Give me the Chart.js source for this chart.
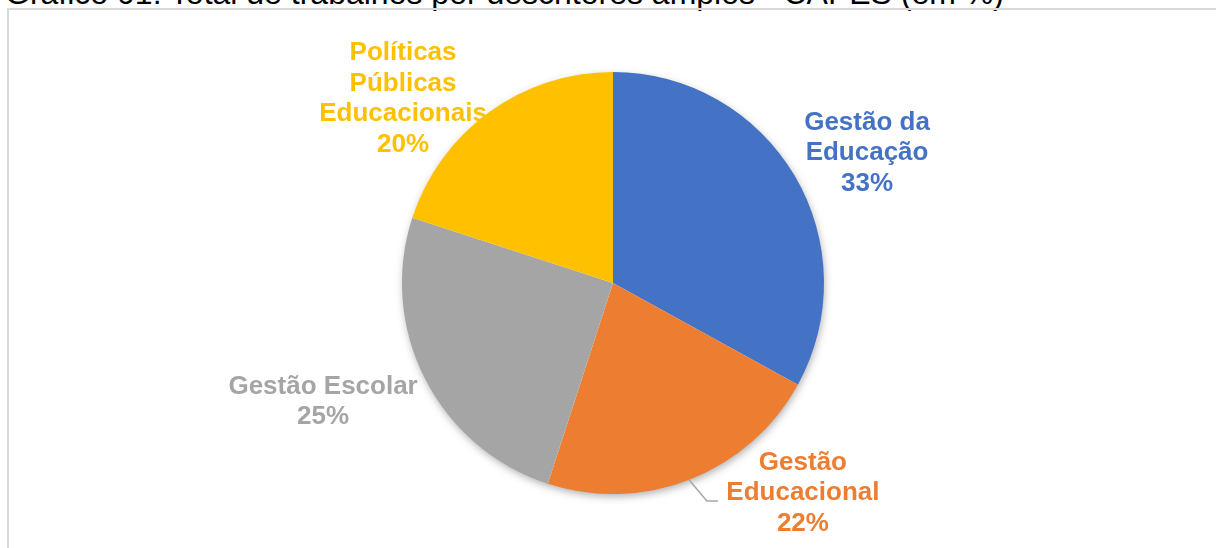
<!DOCTYPE html>
<html lang="pt-BR">
<head>
<meta charset="utf-8">
<title>Gráfico 01</title>
<script src="https://cdn.jsdelivr.net/npm/chart.js@4.4.1/dist/chart.umd.min.js"></script>
<style>
  html, body { margin: 0; padding: 0; background: #fff; overflow: hidden; }
  body { width: 1216px; height: 548px; position: relative; font-family: "Liberation Sans", Arial, sans-serif; }
  #titulo {
    position: absolute; left: 5px; top: -23px;
    font-size: 32px; line-height: 32px; color: #000; white-space: nowrap;
  }
  #moldura {
    position: absolute; left: 7px; top: 8px; width: 1230px; height: 560px;
    border: 2px solid #d9d9d9; box-sizing: border-box;
  }
  #grafico { position: absolute; left: 0; top: 0; }
</style>
</head>
<body>
<div id="titulo">Gráfico 01: Total de trabalhos por descritores amplos - CAPES (em %)</div>
<div id="moldura"></div>
<canvas id="grafico" width="1216" height="548"></canvas>
<script>
// Descritores amplos e percentual de trabalhos
const categorias = ['Gestão da Educação', 'Gestão Educacional', 'Gestão Escolar', 'Políticas Públicas Educacionais'];
const percentuais = [33, 22, 25, 20];
const cores = ['#4472C4', '#ED7D31', '#A5A5A5', '#FFC000'];
// quebra de linha dos rótulos, como no gráfico original
const linhasRotulo = [['Gestão da', 'Educação'], ['Gestão', 'Educacional'], ['Gestão Escolar'], ['Políticas', 'Públicas', 'Educacionais']];

// sombra suave por baixo da pizza inteira (um disco desenhado antes das fatias)
const sombraPizza = {
  id: 'sombraPizza',
  beforeDatasetsDraw(chart) {
    const arc = chart.getDatasetMeta(0).data[0];
    if (!arc) return;
    const { x, y, outerRadius } = arc.getProps(['x', 'y', 'outerRadius'], true);
    const ctx = chart.ctx;
    ctx.save();
    ctx.shadowColor = 'rgba(0,0,0,0.35)';
    ctx.shadowBlur = 9;
    ctx.shadowOffsetX = 1;
    ctx.shadowOffsetY = 3;
    ctx.fillStyle = '#ffffff';
    ctx.beginPath();
    ctx.arc(x, y, outerRadius - 1, 0, Math.PI * 2);
    ctx.fill();
    ctx.restore();
  }
};

// rótulos de dados: nome + percentual, posicionados em relação ao centro (em raios)
const rotulos = {
  id: 'rotulos',
  afterDatasetsDraw(chart, args, opts) {
    const meta = chart.getDatasetMeta(0);
    const ctx = chart.ctx;
    const valores = chart.data.datasets[0].data;
    meta.data.forEach((arc, i) => {
      const { x, y, outerRadius } = arc.getProps(['x', 'y', 'outerRadius'], true);
      const pos = opts.posicoes[i];
      const cx = x + pos.dx * outerRadius;
      const cy = y + pos.dy * outerRadius;
      const linhas = linhasRotulo[i].concat([valores[i] + '%']);
      const topo = cy - (linhas.length - 1) * opts.entrelinha / 2;

      // linha de chamada (só a fatia laranja tem)
      if (pos.chamada) {
        const ang = (pos.chamada.angulo - 90) * Math.PI / 180;
        const fimX = cx + pos.chamada.fx;
        const fimY = cy + pos.chamada.fy;
        ctx.save();
        ctx.strokeStyle = '#A6A6A6';
        ctx.lineWidth = 1.5;
        ctx.beginPath();
        ctx.moveTo(x + Math.cos(ang) * outerRadius, y + Math.sin(ang) * outerRadius);
        ctx.lineTo(fimX - 11, fimY);
        ctx.lineTo(fimX, fimY);
        ctx.stroke();
        ctx.restore();
      }

      ctx.save();
      ctx.font = opts.fonte;
      ctx.fillStyle = chart.data.datasets[0].backgroundColor[i];
      ctx.textAlign = 'center';
      ctx.textBaseline = 'middle';
      linhas.forEach((txt, k) => ctx.fillText(txt, cx, topo + k * opts.entrelinha));
      ctx.restore();
    });
  }
};

new Chart(document.getElementById('grafico'), {
  type: 'pie',
  data: {
    labels: categorias,
    datasets: [{
      data: percentuais,
      backgroundColor: cores,
      borderWidth: 0,
      hoverOffset: 0
    }]
  },
  options: {
    responsive: false,
    animation: false,
    rotation: 0,
    layout: { padding: { top: 72, bottom: 54, left: 10, right: 0 } },
    plugins: {
      legend: { display: false },
      tooltip: { enabled: false },
      rotulos: {
        fonte: 'bold 26px "Liberation Sans", Arial, sans-serif',
        entrelinha: 30.5,
        posicoes: [
          { dx: 1.204, dy: -0.616 },
          { dx: 0.900, dy: 0.995, chamada: { angulo: 158.9, fx: -85, fy: 8 } },
          { dx: -1.374, dy: 0.564 },
          { dx: -0.995, dy: -0.872 }
        ]
      }
    }
  },
  plugins: [sombraPizza, rotulos]
});
</script>
</body>
</html>
